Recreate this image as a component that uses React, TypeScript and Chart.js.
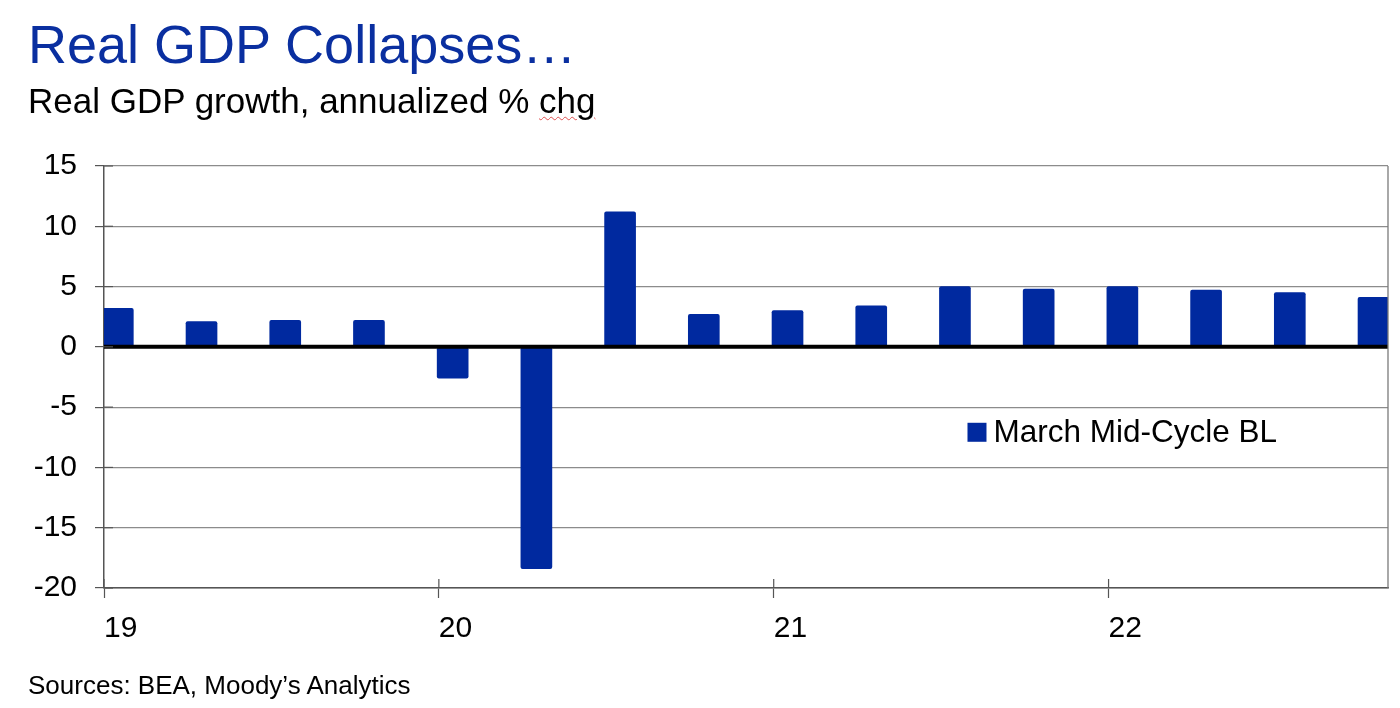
import React, { useEffect, useRef } from "react";
import { Chart, registerables } from "chart.js";

Chart.register(...registerables);

const quarters = [
  "2019Q1", "2019Q2", "2019Q3", "2019Q4",
  "2020Q1", "2020Q2", "2020Q3", "2020Q4",
  "2021Q1", "2021Q2", "2021Q3", "2021Q4",
  "2022Q1", "2022Q2", "2022Q3", "2022Q4",
];
const gdpGrowth = [3.2, 2.1, 2.2, 2.2, -2.6, -18.4, 11.2, 2.7, 3.0, 3.4, 5.0, 4.8, 5.0, 4.7, 4.5, 4.1];
const yearLabels = ["19", "20", "21", "22"];
const yTicks = [15, 10, 5, 0, -5, -10, -15, -20];
const seriesLabel = "March Mid-Cycle BL";

const FONT = '"Liberation Sans", Arial, Helvetica, sans-serif';
const BAR_BLUE = "#00299F";
const TITLE_BLUE = "#0A2FA0";
const AXIS_COLOR = "#555555";
const GRID_COLOR = "#8c8c8c";
const BAR_SHIFT = 0.165; // year tick sits slightly before the quarter's bar

const decorPlugin = {
  id: "decor",
  afterDatasetsDraw(chart: any) {
    const { ctx, chartArea, scales } = chart;
    const { left, right, top, bottom } = chartArea;
    ctx.save();
    // zero line
    const y0 = scales.y.getPixelForValue(0);
    ctx.strokeStyle = "#000";
    ctx.lineWidth = 4;
    ctx.beginPath();
    ctx.moveTo(left, y0);
    ctx.lineTo(right, y0);
    ctx.stroke();
    // right frame
    ctx.strokeStyle = "#7a7a7a";
    ctx.lineWidth = 1.3;
    ctx.beginPath();
    ctx.moveTo(right, top);
    ctx.lineTo(right, bottom);
    ctx.stroke();
    // inner tick marks
    ctx.strokeStyle = AXIS_COLOR;
    ctx.lineWidth = 1.2;
    scales.x.ticks.forEach((t: any) => {
      const x = scales.x.getPixelForValue(t.value);
      ctx.beginPath();
      ctx.moveTo(x, bottom - 9);
      ctx.lineTo(x, bottom);
      ctx.stroke();
    });
    scales.y.ticks.forEach((t: any) => {
      const y = scales.y.getPixelForValue(t.value);
      ctx.beginPath();
      ctx.moveTo(left, y);
      ctx.lineTo(left + 9, y);
      ctx.stroke();
    });
    // legend
    const ds = chart.data.datasets[0];
    const lx = left + (right - left) * 0.6725;
    const ly = top + (bottom - top) * 0.631;
    ctx.fillStyle = ds.backgroundColor;
    ctx.fillRect(lx, ly - 9.5, 19, 19);
    ctx.fillStyle = "#000";
    ctx.font = `31.5px ${FONT}`;
    ctx.textAlign = "left";
    ctx.textBaseline = "middle";
    ctx.fillText(ds.label, lx + 26, ly + 1);
    ctx.restore();
  },
};

function GdpChart() {
  const ref = useRef<HTMLCanvasElement | null>(null);
  useEffect(() => {
    if (!ref.current) return;
    const data = gdpGrowth.map((v, i) => ({ x: i, y: v }));
    const tickPositions = yearLabels.map((_, k) => k * 4 - BAR_SHIFT);
    const chart = new Chart(ref.current, {
      type: "bar",
      data: {
        labels: quarters,
        datasets: [
          {
            label: seriesLabel,
            data: data as any,
            backgroundColor: BAR_BLUE,
            barThickness: 31,
            borderRadius: 2,
            borderSkipped: false,
          } as any,
        ],
      },
      options: {
        responsive: false,
        animation: false,
        events: [],
        layout: { padding: { left: 0, right: 12, top: 166, bottom: 60 } },
        plugins: { legend: { display: false }, tooltip: { enabled: false } },
        scales: {
          x: {
            type: "linear",
            offset: false,
            min: -BAR_SHIFT,
            max: quarters.length - BAR_SHIFT - 0.662,
            afterBuildTicks: (scale: any) => {
              scale.ticks = tickPositions.map((v) => ({ value: v }));
            },
            afterFit: (scale: any) => {
              scale.height = 60;
            },
            grid: {
              offset: false,
              drawOnChartArea: false,
              drawTicks: true,
              tickLength: 10,
              tickColor: AXIS_COLOR,
              tickWidth: 1.2,
            },
            border: { display: true, color: AXIS_COLOR, width: 1.5 },
            ticks: {
              autoSkip: false,
              maxRotation: 0,
              align: "start",
              padding: 13,
              color: "#000",
              font: { family: FONT, size: 30 },
              callback: (value: any) => {
                const idx = tickPositions.findIndex((p) => Math.abs(p - value) < 1e-6);
                return idx >= 0 ? yearLabels[idx] : "";
              },
            },
          } as any,
          y: {
            min: yTicks[yTicks.length - 1],
            max: yTicks[0],
            afterBuildTicks: (scale: any) => {
              scale.ticks = yTicks.map((v) => ({ value: v }));
            },
            afterFit: (scale: any) => {
              scale.width = 104;
            },
            grid: {
              color: GRID_COLOR,
              lineWidth: 1.2,
              tickLength: 9,
              tickColor: AXIS_COLOR,
              tickWidth: 1.2,
            },
            border: { display: true, color: AXIS_COLOR, width: 1.5 },
            ticks: {
              padding: 18,
              color: "#000",
              font: { family: FONT, size: 30 },
              callback: (v: any) => String(v),
            },
          } as any,
        },
      } as any,
      plugins: [decorPlugin],
    });
    return () => chart.destroy();
  }, []);
  return (
    <canvas
      ref={ref}
      width={1400}
      height={708}
      style={{ position: "absolute", left: 0, top: 0, width: 1400, height: 708 }}
    />
  );
}

export default function App() {
  return (
    <div
      style={{
        position: "absolute",
        left: 0,
        top: 0,
        width: 1400,
        height: 708,
        background: "#fff",
        fontFamily: FONT,
        overflow: "hidden",
      }}
    >
      <GdpChart />
      <div
        style={{
          position: "absolute",
          left: 28,
          top: 17,
          fontSize: 54,
          lineHeight: 1,
          color: TITLE_BLUE,
          whiteSpace: "nowrap",
        }}
      >
        Real GDP Collapses…
      </div>
      <div
        style={{
          position: "absolute",
          left: 28,
          top: 83,
          fontSize: 35,
          lineHeight: 1,
          color: "#000",
          whiteSpace: "nowrap",
        }}
      >
        Real GDP growth, annualized %{" "}
        <span
          style={{
            textDecorationLine: "underline",
            textDecorationStyle: "wavy",
            textDecorationColor: "#e05050",
            textDecorationThickness: "1px",
            textUnderlineOffset: "3px",
          }}
        >
          chg
        </span>
      </div>
      <div
        style={{
          position: "absolute",
          left: 28,
          top: 672,
          fontSize: 26,
          lineHeight: 1,
          color: "#000",
          whiteSpace: "nowrap",
        }}
      >
        Sources: BEA, Moody’s Analytics
      </div>
    </div>
  );
}
